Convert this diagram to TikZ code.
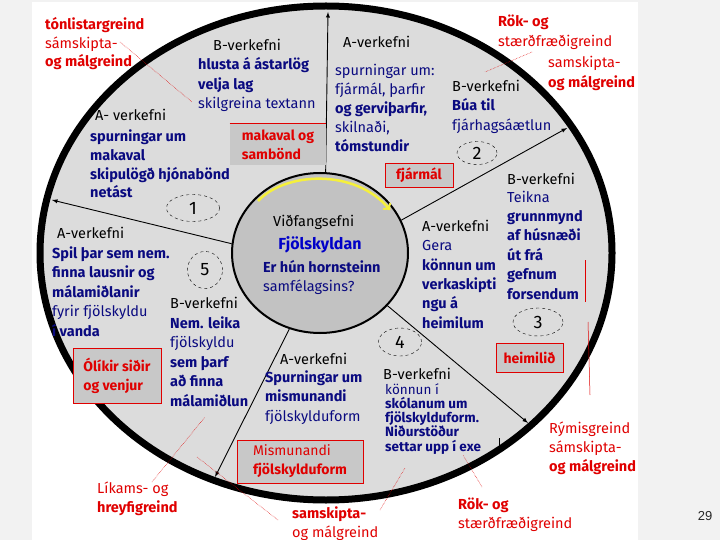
\documentclass[tikz,border=0pt]{standalone}
\usepackage{fontspec}
\setmainfont{Fira Sans}
\newfontfamily\pagefont{Liberation Sans}
\usetikzlibrary{shapes.geometric}

\definecolor{pagebg}{HTML}{F2F2F2}
\definecolor{sectorgray}{HTML}{DCDCDC}
\definecolor{hubgray}{HTML}{C2C2C2}
\definecolor{boxgray}{HTML}{C8C8C8}
\definecolor{tasknavy}{HTML}{0A0A80}
\definecolor{labelred}{HTML}{E00000}
\definecolor{famblue}{HTML}{0000C8}
\definecolor{arcyellow}{HTML}{F5F03C}

% multi-line nodes sit on the baseline of their last line
\tikzset{
	head/.style={anchor=base west, inner sep=0pt, font=\fontsize{14.5}{19.5}\selectfont},
	task/.style={head, align=left, text=tasknavy},
	intel/.style={head, align=left, text=labelred},
	theme/.style={fill=boxgray, draw=labelred, line width=0.8pt, inner sep=0pt, align=left, text=labelred, font=\bfseries\fontsize{14}{19}\selectfont},
	phase/.style={ellipse, draw, dashed, inner sep=0pt, font=\fontsize{18}{18}\selectfont},
	spoke/.style={-latex, line width=0.9pt},
	leader/.style={labelred, line width=0.5pt, densely dotted},
}

\begin{document}
\begin{tikzpicture}[x=1pt, y=-1pt]
	\fill[pagebg] (0,0) rectangle (720,540);
	\fill[white] (32,2) rectangle (638,540);
	\useasboundingbox (0,0) rectangle (720,540);

	\node[ellipse, draw, line width=7pt, fill=sectorgray, inner sep=0pt, minimum width=572pt, minimum height=494pt] (wheel) at (326,253) {};
	\node[ellipse, draw, line width=2pt, fill=hubgray, inner sep=0pt, minimum width=176pt, minimum height=160pt] (hub) at (320,253) {};

	\coordinate (tip1) at (328,12);
	\coordinate (tip2) at (567,128);
	\coordinate (tip3) at (528,423);
	\coordinate (tip4) at (215,477);
	\coordinate (tip5) at (52,200);
	\draw[spoke] (hub.86) -- (tip1);
	\draw[spoke] (hub.22) -- (tip2);
	\draw[spoke] (hub.-38) -- (tip3);
	\draw[spoke] (hub.-112) -- (tip4);
	\draw[spoke] (hub.174) -- (tip5);

	\draw[arcyellow, line width=2.5pt, ->] (258,201) .. controls (285,172) and (355,168) .. (390,210);

	\node[head] (topic) at (273,226) {Viðfangsefni};
	\node[inner sep=0pt, text=famblue, font=\bfseries\fontsize{16}{16}\selectfont] (family) at (320,245) {Fjölskyldan};
	\node[task] (question) at (263,291.5) {\textbf{Er hún hornsteinn}\\samfélagsins?};

	\node[head] (hB1) at (213,51) {B-verkefni};
	\node[task] (tB1) at (198,109) {\textbf{hlusta á ástarlög}\\\textbf{velja lag}\\skilgreina textann};
	\node[head] (hA1) at (95,121) {A- verkefni};
	\node[task, font=\fontsize{14.5}{18.7}\selectfont] (tA1) at (90,198) {\textbf{spurningar um}\\\textbf{makaval}\\\textbf{skipulögð hjónabönd}\\\textbf{netást}};
	\node[head] (hA2) at (343,48) {A-verkefni};
	\node[task, font=\fontsize{14.5}{19.2}\selectfont] (tA2) at (335,152) {spurningar um:\\fjármál, þarfir\\\textbf{og gerviþarfir,}\\skilnaði,\\\textbf{tómstundir}};
	\node[head] (hB2) at (452,92) {B-verkefni};
	\node[task] (tB2) at (452,130.5) {\textbf{Búa til}\\fjárhagsáætlun};
	\node[head] (hB3) at (507,185) {B-verkefni};
	\node[task, font=\fontsize{14.5}{19.4}\selectfont] (tB3) at (507,299) {Teikna\\\textbf{grunnmynd}\\\textbf{af húsnæði}\\\textbf{út frá}\\\textbf{gefnum}\\\textbf{forsendum}};
	\node[head] (hA3) at (422,232) {A-verkefni};
	\node[task, font=\fontsize{14.5}{19.3}\selectfont] (tA3) at (422,328) {Gera\\\textbf{könnun um}\\\textbf{verkaskipti}\\\textbf{ngu á}\\\textbf{heimilum}};
	\node[head] (hB4) at (383,379) {B-verkefni};
	\node[task, font=\fontsize{13.5}{14.2}\selectfont] (tB4) at (385,451) {könnun í\\\textbf{skólanum um}\\\textbf{fjölskylduform.}\\\textbf{Niðurstöður}\\\textbf{settar upp í exe}};
	\draw[line width=0.6pt] (499,438) -- (499,452);
	\node[head] (hA4) at (280,364) {A-verkefni};
	\node[task] (tA4) at (265,421) {\textbf{Spurningar um}\\\textbf{mismunandi}\\fjölskylduform};
	\node[head] (hB5) at (170,308) {B-verkefni};
	\node[task] (tB5) at (170,406) {\textbf{Nem. leika}\\fjölskyldu\\\textbf{sem þarf}\\\textbf{að finna}\\\textbf{málamiðlun}};
	\node[head] (hA5) at (57,238) {A-verkefni};
	\node[task] (tA5) at (52,336) {\textbf{Spil þar sem nem.}\\\textbf{finna lausnir og}\\\textbf{málamiðlanir}\\fyrir fjölskyldu\\\textbf{í vanda}};

	\node[theme, draw=none, minimum width=96pt, minimum height=41pt] (partner) at (278,144.5) {makaval og\\sambönd};
	\draw[labelred, line width=0.8pt] (partner.north west) -- (partner.north east);
	\node[theme, minimum width=68pt, minimum height=24pt] (money) at (419,175) {fjármál};
	\node[theme, minimum width=67pt, minimum height=29pt] (home) at (529.5,357.5) {heimilið};
	\node[theme, minimum width=88pt, minimum height=55pt] (customs) at (117,375.5) {Ólíkir siðir\\og venjur};
	\node[theme, minimum width=126pt, minimum height=43pt] (forms) at (300,461.5) {{\mdseries Mismunandi}\\fjölskylduform};

	\node[phase, minimum width=53pt, minimum height=27pt] (ph1) at (193,208) {1};
	\node[phase, minimum width=40pt, minimum height=23pt] (ph2) at (477,153) {2};
	\node[phase, minimum width=50pt, minimum height=28pt] (ph3) at (538,322) {3};
	\node[phase, minimum width=43pt, minimum height=28pt] (ph4) at (400,342) {4};
	\node[phase, minimum width=35pt, minimum height=37pt] (ph5) at (205,270) {5};

	\node[intel, font=\fontsize{14.5}{18.5}\selectfont] (music) at (45,67) {\textbf{tónlistargreind}\\sámskipta-\\\textbf{og málgreind}};
	\node[intel] (logic1) at (498,46.5) {\textbf{Rök- og}\\stærðfræðigreind};
	\node[intel] (lang1) at (548,87.5) {samskipta-\\\textbf{og málgreind}};
	\node[intel] (body) at (97,512.5) {Líkams- og\\\textbf{hreyfigreind}};
	\node[intel] (lang2) at (292,537.5) {\textbf{samskipta-}\\og málgreind};
	\node[intel, font=\fontsize{14.5}{19}\selectfont] (logic2) at (458,528) {\textbf{Rök- og}\\stærðfræðigreind};
	\node[intel, font=\fontsize{14.5}{19}\selectfont] (space) at (549,471) {Rýmisgreind\\sámskipta-\\\textbf{og málgreind}};

	\coordinate (m1) at (120,42);
	\coordinate (m1e) at (192,102);
	\coordinate (m2) at (532,52);
	\coordinate (m2e) at (485,72);
	\coordinate (m3) at (152,482);
	\coordinate (m3e) at (205,417);
	\coordinate (m4) at (278,520);
	\coordinate (m4e) at (197,457);
	\coordinate (m5) at (380,510);
	\coordinate (m5e) at (405,468);
	\coordinate (m6) at (482,487);
	\coordinate (m6e) at (463,455);
	\draw[leader] (m1) -- (m1e);
	\draw[leader] (m2) -- (m2e);
	\draw[leader] (m3) -- (m3e);
	\draw[leader] (m4) -- (m4e);
	\draw[leader] (m5) -- (m5e);
	\draw[leader] (m6) -- (m6e);
	\coordinate (r1) at (585,260);
	\coordinate (r1e) at (585,302);
	\coordinate (r2) at (588,322);
	\coordinate (r2e) at (590,395);
	\draw[labelred, line width=0.5pt] (r1) -- (r1e);
	\draw[labelred, line width=0.5pt] (r2) -- (r2e);

	\node[inner sep=0pt, text=black!85, font=\pagefont\fontsize{13}{13}\selectfont] (pagenum) at (705,516) {29};
\end{tikzpicture}
\end{document}
